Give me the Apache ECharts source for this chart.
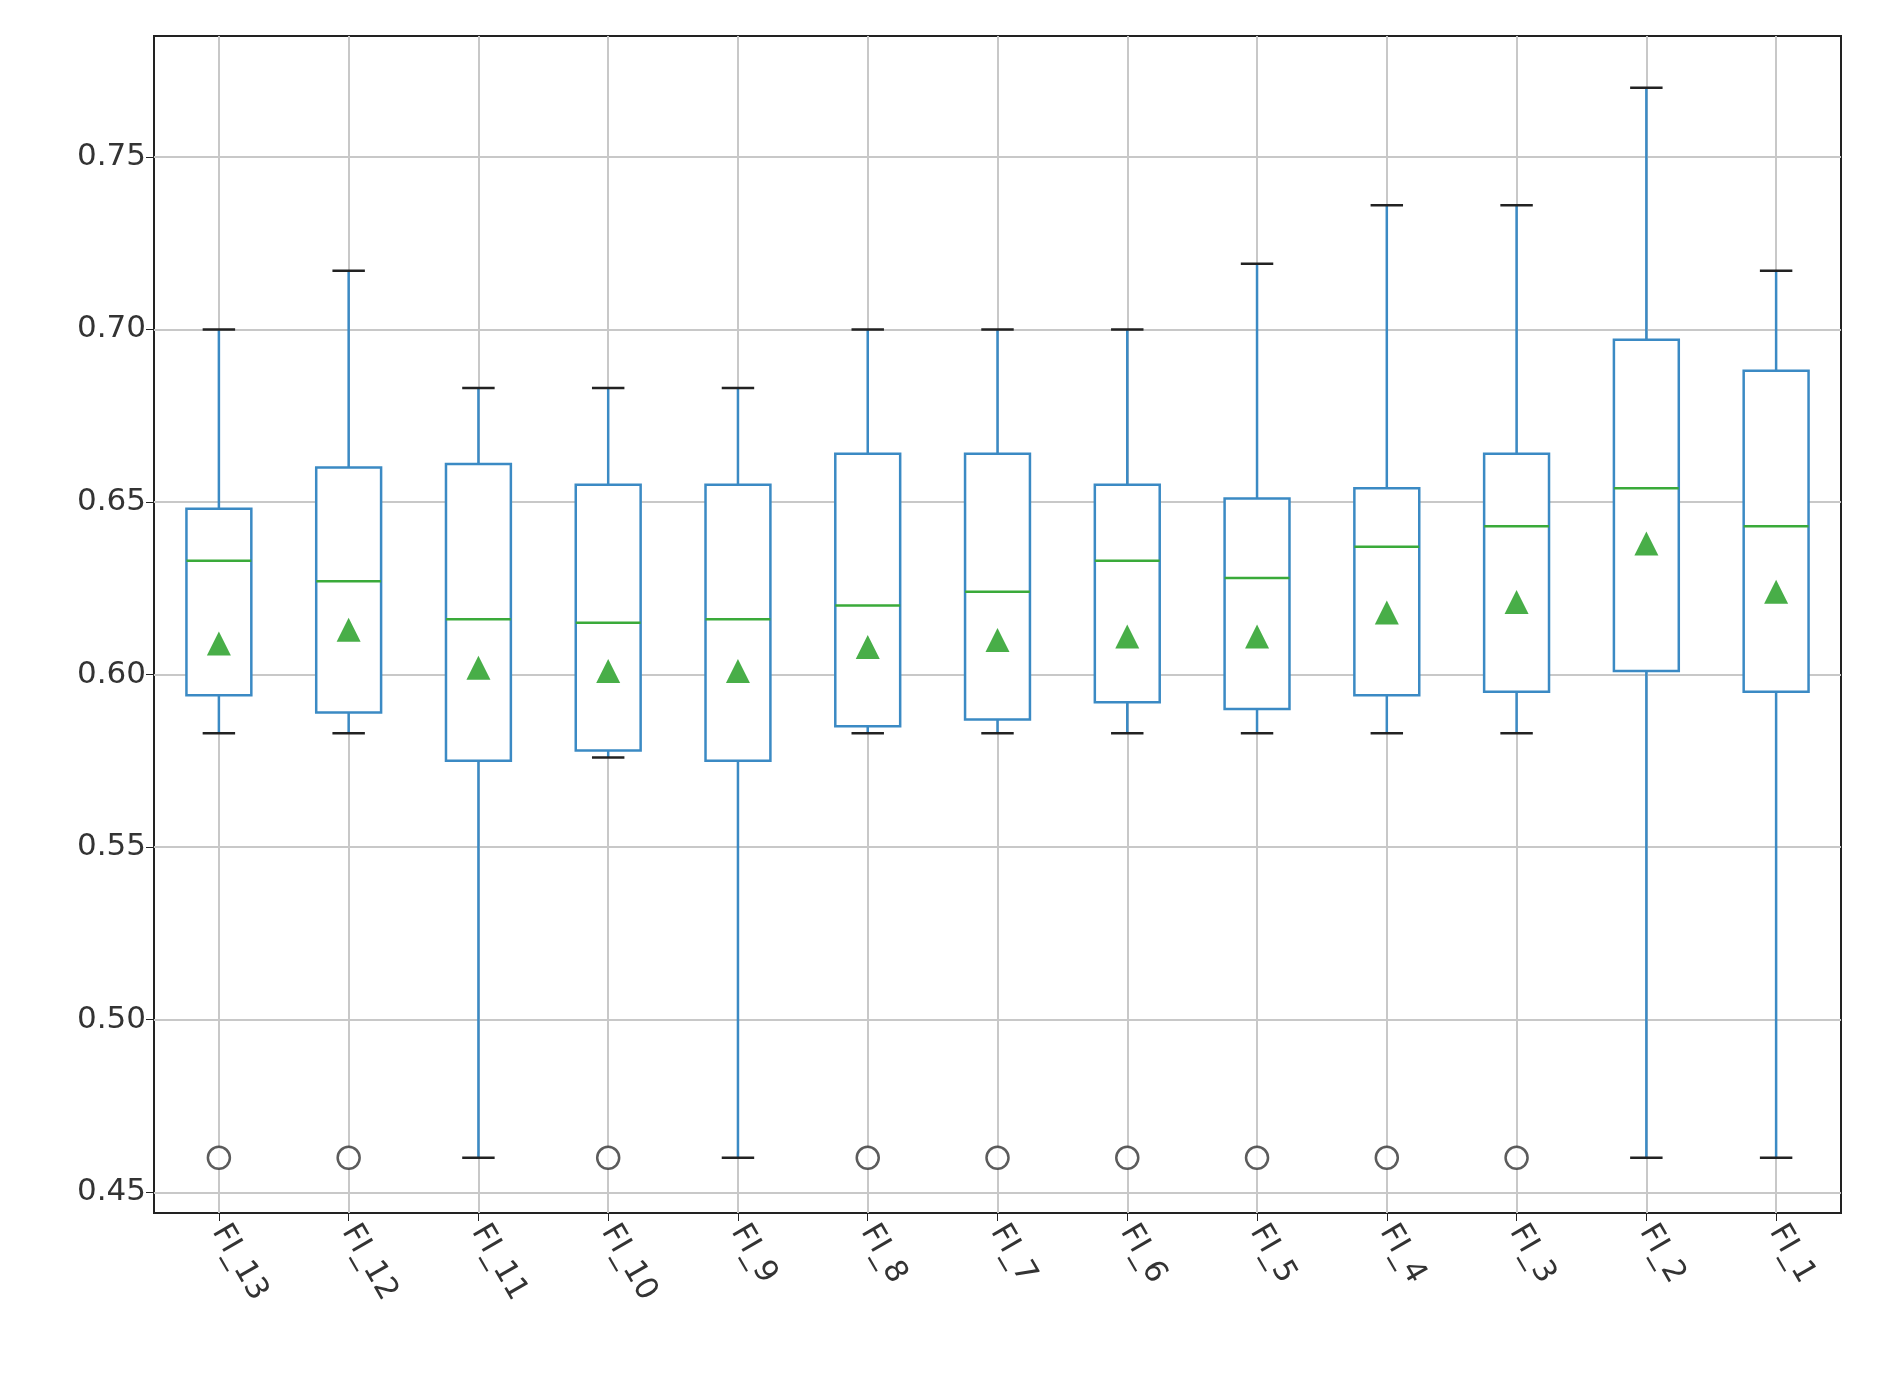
<!DOCTYPE html>
<html><head><meta charset="utf-8">
<script src="https://cdn.jsdelivr.net/npm/echarts@6/dist/echarts.min.js"></script>
<style>html,body{margin:0;background:#fff}#c{width:1884px;height:1384px}</style>
</head><body><div id="c"></div>
<script>
const categories = ['FI_13','FI_12','FI_11','FI_10','FI_9','FI_8','FI_7','FI_6','FI_5','FI_4','FI_3','FI_2','FI_1'];
const whiskerLow = [0.583,0.583,0.460,0.576,0.460,0.583,0.583,0.583,0.583,0.583,0.583,0.460,0.460];
const q1 =         [0.594,0.589,0.575,0.578,0.575,0.585,0.587,0.592,0.590,0.594,0.595,0.601,0.595];
const median =     [0.633,0.627,0.616,0.615,0.616,0.620,0.624,0.633,0.628,0.637,0.643,0.654,0.643];
const q3 =         [0.648,0.660,0.661,0.655,0.655,0.664,0.664,0.655,0.651,0.654,0.664,0.697,0.688];
const whiskerHigh =[0.700,0.717,0.683,0.683,0.683,0.700,0.700,0.700,0.719,0.736,0.736,0.770,0.717];
const means =      [0.609,0.613,0.602,0.601,0.601,0.608,0.610,0.611,0.611,0.618,0.621,0.638,0.624];
const outliers =   [0.460,0.460,null,0.460,null,0.460,0.460,0.460,0.460,0.460,0.460,null,null];
const yTicks = [0.45,0.50,0.55,0.60,0.65,0.70,0.75];

const idx = categories.map((_,i)=>i+1);
const chart = echarts.init(document.getElementById('c'));
const boxData = idx.map((x,i)=>[x,whiskerLow[i],q1[i],median[i],q3[i],whiskerHigh[i]]);
chart.setOption({
  animation:false,
  grid:{left:154,right:43,top:36,bottom:171,show:true,borderColor:'#222',borderWidth:2},
  xAxis:{type:'value',min:0.5,max:13.5,
    axisLine:{show:false},
    axisTick:{show:true,customValues:idx,length:8,lineStyle:{color:'#222'}},
    axisLabel:{customValues:idx,rotate:-60,fontSize:31,color:'#333',fontFamily:'DejaVu Sans',margin:14,
      formatter:v=>categories[Math.round(v)-1]||''},
    splitLine:{show:true,lineStyle:{color:'#c8c8c8',width:2}}},
  yAxis:{type:'value',min:0.444,max:0.785,
    axisLine:{show:false},
    axisTick:{show:true,customValues:yTicks,length:8,lineStyle:{color:'#222'}},
    axisLabel:{customValues:yTicks,fontSize:31,color:'#333',fontFamily:'DejaVu Sans',formatter:v=>v.toFixed(2)},
    splitLine:{show:true,lineStyle:{color:'#c8c8c8',width:2}}},
  series:[
    {type:'custom',data:boxData,renderItem:(p,api)=>{
      const x=api.value(0);
      const c=k=>api.coord([x,api.value(k)]);
      const w=api.size([0.5,0])[0], hw=w/2, cw=w/4;
      const lo=c(1),a=c(2),m=c(3),b=c(4),hi=c(5);
      const cx=lo[0];
      const blue={stroke:'#3b8ac4',lineWidth:2.5,fill:null};
      return {type:'group',children:[
        {type:'line',shape:{x1:cx,y1:lo[1],x2:cx,y2:a[1]},style:blue},
        {type:'line',shape:{x1:cx,y1:b[1],x2:cx,y2:hi[1]},style:blue},
        {type:'rect',shape:{x:cx-hw,y:b[1],width:w,height:a[1]-b[1]},style:{stroke:'#3b8ac4',lineWidth:2.5,fill:'#fff'}},
        {type:'line',shape:{x1:cx-hw,y1:m[1],x2:cx+hw,y2:m[1]},style:{stroke:'#3aaa3a',lineWidth:2.5}},
        {type:'line',shape:{x1:cx-cw,y1:lo[1],x2:cx+cw,y2:lo[1]},style:{stroke:'#222',lineWidth:2.5}},
        {type:'line',shape:{x1:cx-cw,y1:hi[1],x2:cx+cw,y2:hi[1]},style:{stroke:'#222',lineWidth:2.5}}
      ]};
    },z:3},
    {type:'scatter',data:idx.map((x,i)=>[x,means[i]]),symbol:'triangle',symbolSize:24,itemStyle:{color:'#1a9a1a'},z:5},
    {type:'scatter',data:idx.map((x,i)=>outliers[i]==null?null:[x,outliers[i]]).filter(d=>d),symbol:'circle',symbolSize:22,
      itemStyle:{color:'#fff',borderColor:'#333',borderWidth:2.5},z:5}
  ]
});
</script></body></html>
